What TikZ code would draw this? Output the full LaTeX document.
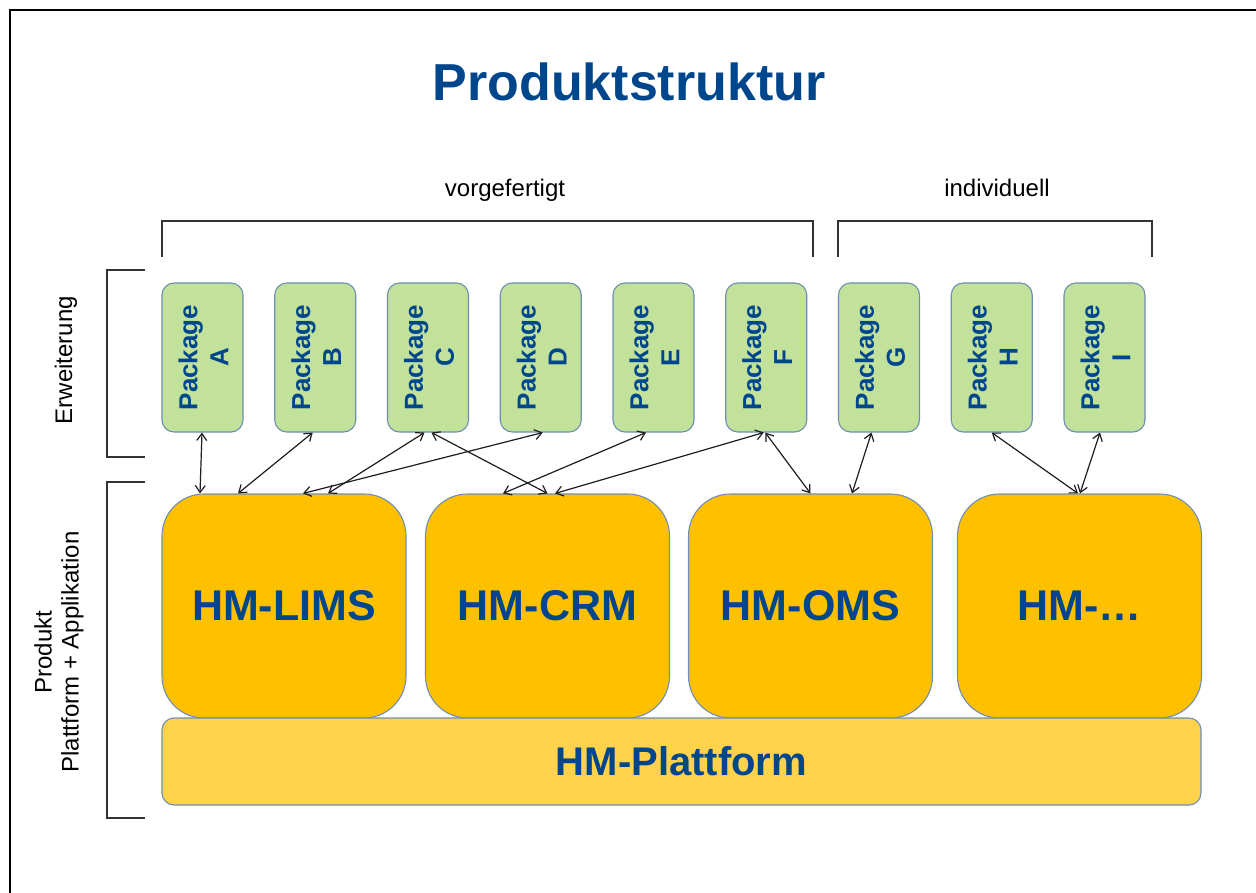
\documentclass[tikz,border=0pt]{standalone}
\usepackage{fontspec}
\setmainfont{Liberation Sans}
\usetikzlibrary{arrows.meta,calc}
\definecolor{tblue}{RGB}{0,70,140}
\definecolor{pkggreen}{RGB}{194,225,155}
\definecolor{boxedge}{RGB}{110,143,178}
\definecolor{appor}{RGB}{255,192,0}
\definecolor{platy}{RGB}{255,210,76}
\definecolor{lnk}{RGB}{30,30,30}
\begin{document}
\begin{tikzpicture}[x=1pt,y=-1pt,
  pkg/.style={draw=boxedge,line width=1.1pt,fill=pkggreen,rounded corners=12pt,minimum width=81pt,minimum height=149pt,inner sep=0pt},
  pkgtext/.style={rotate=90,align=center,text=tblue,font=\bfseries\fontsize{26}{31}\selectfont,inner sep=0pt},
  app/.style={draw=boxedge,line width=1.1pt,fill=appor,rounded corners=42pt,minimum width=244pt,minimum height=224pt,inner sep=0pt},
  apptext/.style={text=tblue,font=\bfseries\fontsize{43}{48}\selectfont,inner sep=0pt},
  plat/.style={draw=boxedge,line width=1.1pt,fill=platy,rounded corners=12pt,minimum width=1039pt,minimum height=87pt,inner sep=0pt},
  lbl/.style={font=\fontsize{24}{27}\selectfont,inner sep=0pt},
  brk/.style={draw=black!80,line width=1.1pt},
  conn/.style={draw=lnk,line width=1.2pt,{Straight Barb[length=7pt,width=10pt]}-{Straight Barb[length=7pt,width=10pt]}}
]
\useasboundingbox (0,0) rectangle (1256,893);
\clip (0,0) rectangle (1256,893);
\fill[white] (0,0) rectangle (1256,893);
\draw[line width=2pt] (10,10) rectangle (1300,950);

% title
\node[anchor=base,text=tblue,font=\bfseries\fontsize{52}{56}\selectfont,inner sep=0pt] (title) at (629,101) {Produktstruktur};

% group labels and brackets
\node[lbl,anchor=base] (vorg) at (505,197) {vorgefertigt};
\node[lbl,anchor=base] (indiv) at (997,197) {individuell};
\draw[brk] (162,257) |- (813,221) -- (813,257);
\draw[brk] (838,257) |- (1152,221) -- (1152,257);

\draw[brk] (145,270) -| (107,457) -- (145,457);
\draw[brk] (145,482) -| (107,818) -- (145,818);
\node[lbl,rotate=90] (erw) at (66,360) {Erweiterung};
\node[lbl,rotate=90,align=center] (prod) at (59,652) {Produkt\\Plattform + Applikation};

% packages
\foreach \n/\l [count=\i from 0] in {pA/A,pB/B,pC/C,pD/D,pE/E,pF/F,pG/G,pH/H,pI/I}{
  \node[pkg] (\n) at ({202.5+\i*112.75},357.5) {};
  \node[pkgtext] at ([xshift=1pt]\n.center) {Package\\\l};
}

% applications
\node[app] (lims) at (284,606) {};
\node[apptext] at (lims) {HM-LIMS};
\node[app] (crm) at (547.5,606) {};
\node[apptext] at (crm) {HM-CRM};
\node[app] (oms) at (810.5,606) {};
\node[apptext] at (oms) {HM-OMS};
\node[app] (hx) at (1079.5,606) {};
\node[apptext] at (hx) {HM-…};

% platform
\node[plat] (platf) at (681.5,761.5) {};
\node[text=tblue,font=\bfseries\fontsize{40}{44}\selectfont,inner sep=0pt] at (platf) {HM-Plattform};

% connectors
\draw[conn] ([xshift=-0.5pt]pA.south) -- ([xshift=-84pt]lims.north);
\draw[conn] ([xshift=-2.5pt]pB.south) -- ([xshift=-46pt]lims.north);
\draw[conn] ([xshift=-3.5pt]pC.south) -- ([xshift=44pt]lims.north);
\draw[conn] ([xshift=2pt]pD.south) -- ([xshift=19pt]lims.north);
\draw[conn] ([xshift=3.5pt]pC.south) -- ([xshift=0pt]crm.north);
\draw[conn] ([xshift=-7.5pt]pE.south) -- ([xshift=-44.5pt]crm.north);
\draw[conn] ([xshift=-2.5pt]pF.south) -- ([xshift=7.5pt]crm.north);
\draw[conn] ([xshift=-1pt]pF.south) -- ([xshift=0pt]oms.north);
\draw[conn] ([xshift=-7.5pt]pG.south) -- ([xshift=41.5pt]oms.north);
\draw[conn] ([xshift=0pt]pH.south) -- ([xshift=-1.5pt]hx.north);
\draw[conn] ([xshift=-4.5pt]pI.south) -- ([xshift=0.5pt]hx.north);
\end{tikzpicture}
\end{document}
